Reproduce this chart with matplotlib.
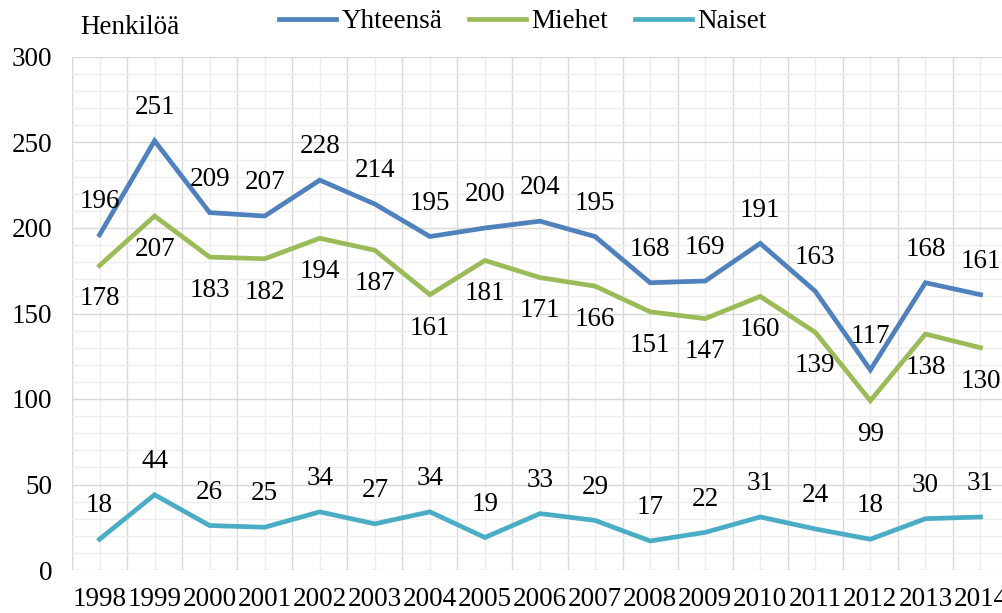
import numpy as np
import matplotlib.pyplot as plt
from matplotlib.ticker import MultipleLocator

years = [str(y) for y in range(1998, 2015)]
yhteensa = [196, 251, 209, 207, 228, 214, 195, 200, 204, 195, 168, 169, 191, 163, 117, 168, 161]
miehet = [178, 207, 183, 182, 194, 187, 161, 181, 171, 166, 151, 147, 160, 139, 99, 138, 130]
naiset = [18, 44, 26, 25, 34, 27, 34, 19, 33, 29, 17, 22, 31, 24, 18, 30, 31]

plt.rcParams['font.family'] = ['Liberation Serif', 'DejaVu Serif']
fs = 19.5

fig = plt.figure(figsize=(10.03, 6.13), dpi=100)
ax = fig.add_axes([72 / 1003, 1 - 570 / 613, (1008 - 72) / 1003, (570 - 57) / 613])

x = np.arange(len(years))
series = [
    ('Yhteensä', yhteensa, '#4f81bd', 24),
    ('Miehet', miehet, '#9bbb59', -24),
    ('Naiset', naiset, '#4bacc6', 24),
]
for name, vals, col, off in series:
    ax.plot(x, vals, color=col, lw=3.4, label=name, solid_joinstyle='miter')
    for xi, v in zip(x, vals):
        ax.annotate(str(v), (xi, v), xytext=(0, off), textcoords='offset points',
                    ha='center', va='center', fontsize=fs)

ax.set_xlim(-0.5, len(years) - 0.5)
ax.set_ylim(0, 300)
ax.set_xticks(x, years)
ax.xaxis.set_minor_locator(MultipleLocator(1, offset=0.5))
ax.yaxis.set_major_locator(MultipleLocator(50))
ax.yaxis.set_minor_locator(MultipleLocator(10))
ax.tick_params(which='both', length=0)
ax.tick_params(axis='y', pad=14, labelsize=fs)
ax.tick_params(axis='x', pad=12.5, labelsize=fs)
ax.grid(True, which='major', axis='y', color='#d9d9d9', lw=1)
ax.grid(True, which='minor', axis='y', color='#eeeeee', lw=1)
ax.grid(True, which='minor', axis='x', color='#d9d9d9', lw=1)
ax.grid(True, which='major', axis='x', color='#eeeeee', lw=1)
ax.set_axisbelow(True)
for s in ax.spines.values():
    s.set_visible(False)
ax.axvline(-0.5, color='#d9d9d9', lw=1, zorder=0)

fig.text(80 / 1003, 1 - 27 / 613, 'Henkilöä', fontsize=fs, ha='left', va='center')
fig.legend(loc='center', bbox_to_anchor=(523 / 1003, 1 - 22 / 613), ncol=3,
           frameon=False, fontsize=fs, handlelength=2.1, handletextpad=0.2,
           columnspacing=1.0)

fig.savefig('out.png', dpi=100)
